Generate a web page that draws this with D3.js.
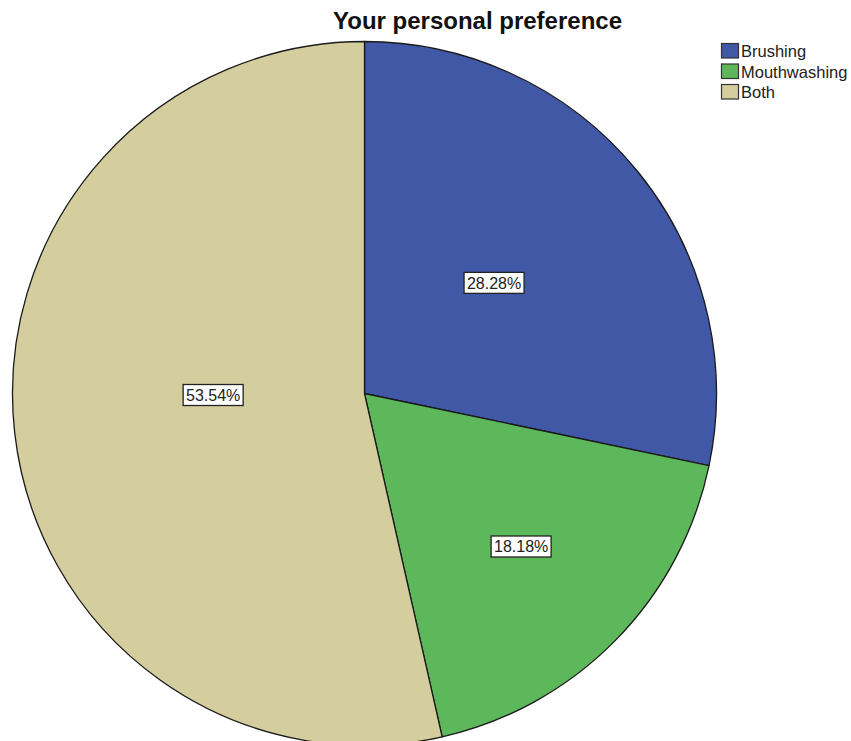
<!DOCTYPE html>
<html><head><meta charset="utf-8">
<script src="https://cdn.jsdelivr.net/npm/d3@7"></script>
<style>body{margin:0;background:#fff;}svg{display:block;}</style>
</head><body>
<svg id="chart" width="851" height="741"></svg>
<script>
const categories = ["Brushing", "Mouthwashing", "Both"];
const percents = [28.28, 18.18, 53.54];
const colors = ["#4058a6", "#5cb85a", "#d4cd9d"];
// label placement (fraction of radius, angle shift in degrees)
const labelRadiusFrac = [0.484, 0.622, 0.430];
const labelAngleShift = [-1.4, -0.2, 5.8];

const svg = d3.select("#chart");
const cx = 364.5, cy = 393.5, R = 352;
const font = "'Liberation Sans', Arial, sans-serif";

svg.append("text").attr("x", 477.5).attr("y", 29).attr("text-anchor", "middle")
  .attr("font-family", font).attr("font-weight", "bold").attr("font-size", 24)
  .attr("fill", "#111").text("Your personal preference");

const pie = d3.pie().sort(null).value(d => d)(percents);
const arc = d3.arc().innerRadius(0).outerRadius(R);
const g = svg.append("g").attr("transform", `translate(${cx},${cy})`);

g.selectAll("path").data(pie).join("path")
  .attr("d", arc).attr("fill", (d, i) => colors[i])
  .attr("stroke", "#1a1a1a").attr("stroke-width", 1.3).attr("stroke-linejoin", "round");

const labels = g.selectAll("g.lab").data(pie).join("g").attr("class", "lab")
  .attr("transform", (d, i) => {
    const a = (d.startAngle + d.endAngle) / 2 + labelAngleShift[i] * Math.PI / 180;
    const p = d3.pointRadial(a, R * labelRadiusFrac[i]);
    return `translate(${p[0]},${p[1]})`;
  });
labels.append("rect").attr("x", -30).attr("y", -10.5).attr("width", 60).attr("height", 21)
  .attr("fill", "#fff").attr("stroke", "#222").attr("stroke-width", 1.3);
labels.append("text").attr("text-anchor", "middle").attr("dy", "0.36em")
  .attr("font-family", font).attr("font-size", 16).attr("fill", "#222")
  .text((d, i) => percents[i].toFixed(2) + "%");

const leg = svg.append("g").attr("transform", "translate(721,43)");
const rows = leg.selectAll("g").data(categories).join("g")
  .attr("transform", (d, i) => `translate(0,${i * 20.5})`);
rows.append("rect").attr("x", 0.5).attr("y", 0.5).attr("width", 17).attr("height", 14.5)
  .attr("fill", (d, i) => colors[i]).attr("stroke", "#333").attr("stroke-width", 1.2);
rows.append("text").attr("x", 20).attr("y", 8.5).attr("dy", "0.36em")
  .attr("font-family", font).attr("font-size", 16.5).attr("fill", "#222").text(d => d);
</script>
</body></html>
